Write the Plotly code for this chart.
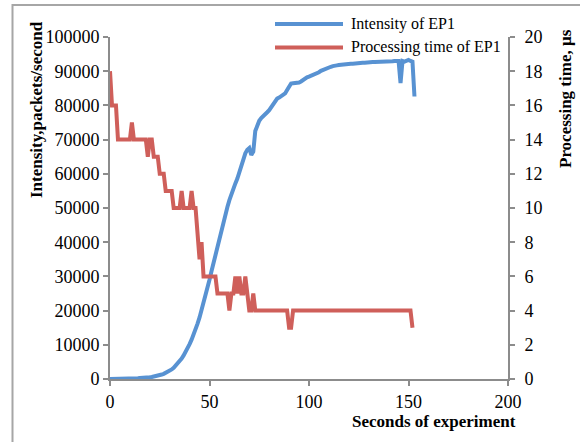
import plotly.graph_objects as go

# Intensity of EP1 (packets/second), one value per second, 0..153 s
intensity = [
    0, 0, 0, 0, 0, 50, 50, 100, 100, 100,
    150, 150, 200, 200, 250, 300, 300, 350, 400, 450,
    500, 600, 700, 800, 950, 1100, 1300, 1500, 1750, 2050,
    2400, 2800, 3300, 3900, 4500, 5200, 6000, 6900, 7900, 9000,
    10200, 11500, 12900, 14500, 16200, 18000, 20000, 22000, 24300, 26600,
    29000, 31500, 34000, 36500, 39000, 41500, 43800, 46000, 48200, 50300,
    52300, 54200, 55800, 57200, 58600, 60500, 62300, 64000, 66000, 67000,
    67500, 65500, 66500, 72500, 74500, 75500, 76300, 77000, 77500, 78000,
    78600, 79500, 80300, 81200, 82000, 82300, 82800, 83200, 83500, 84500,
    85800, 86400, 86500, 86500, 86600, 86700, 87000, 87500, 87900, 88200,
    88400, 88600, 88800, 89100, 89300, 89700, 90100, 90400, 90600, 90800,
    91000, 91300, 91500, 91500, 91700, 91800, 91900, 92000, 92000, 92100,
    92100, 92200, 92200, 92300, 92300, 92400, 92400, 92500, 92500, 92600,
    92600, 92600, 92700, 92700, 92700, 92800, 92800, 92800, 92800, 92800,
    92800, 92900, 92900, 93000, 93000, 93000, 86500, 93000, 92800, 93200,
    93300, 93000, 92800, 82600,
]

# Processing time of EP1 (µs), one value per second, 0..152 s
proc_time = [
    18, 16, 16, 16, 14, 14, 14, 14, 14, 14,
    14, 15, 14, 14, 14, 14, 14, 14, 14, 13,
    14, 14, 13, 13, 13, 12, 12, 12, 11, 11,
    11, 11, 10, 10, 10, 10, 11, 10, 10, 10,
    10, 11, 10, 10, 8, 7, 8, 6, 6, 6,
    6, 6, 6, 6, 5, 5, 5, 5, 5, 5,
    4, 5, 5, 6, 5, 6, 5, 5, 6, 5,
    4, 4, 5, 4, 4, 4, 4, 4, 4, 4,
    4, 4, 4, 4, 4, 4, 4, 4, 4, 4,
    3, 3, 4, 4, 4, 4, 4, 4, 4, 4,
    4, 4, 4, 4, 4, 4, 4, 4, 4, 4,
    4, 4, 4, 4, 4, 4, 4, 4, 4, 4,
    4, 4, 4, 4, 4, 4, 4, 4, 4, 4,
    4, 4, 4, 4, 4, 4, 4, 4, 4, 4,
    4, 4, 4, 4, 4, 4, 4, 4, 4, 4,
    4, 4, 3,
]

sec_intensity = list(range(len(intensity)))
sec_proc = list(range(len(proc_time)))

series_names = ["Intensity of EP1", "Processing time of EP1"]
x_title = "Seconds of experiment"
y1_title = "Intensity,packets/second"
y2_title = "Processing time, µs"

BLUE = "#5892D2"
RED = "#CF5F5A"
AXIS = "#8C8C8C"
TICKFONT = dict(family="Liberation Serif", size=18, color="#000000")
TITLEFONT = dict(family="Liberation Serif", size=17, color="#000000")
LEGFONT = dict(family="Liberation Serif", size=16, color="#000000")

fig = go.Figure()
fig.add_trace(go.Scatter(x=sec_intensity, y=intensity, mode="lines",
                         line=dict(color=BLUE, width=4), name=series_names[0],
                         showlegend=False, yaxis="y"))
fig.add_trace(go.Scatter(x=sec_proc, y=proc_time, mode="lines",
                         line=dict(color=RED, width=4), name=series_names[1],
                         showlegend=False, yaxis="y2"))

axis_common = dict(showgrid=False, zeroline=False, showline=True, linecolor=AXIS,
                   linewidth=2, ticks="outside", ticklen=5, tickwidth=2,
                   tickcolor=AXIS, tickfont=TICKFONT)

fig.update_layout(
    width=580, height=442,
    margin=dict(l=110, r=72, t=37, b=63),
    paper_bgcolor="white", plot_bgcolor="white",
    xaxis=dict(range=[0, 200], dtick=50, tickformat="d", **axis_common),
    yaxis=dict(range=[0, 100000], dtick=10000, tickformat="d", **axis_common),
    yaxis2=dict(range=[0, 20], dtick=2, tickformat="d", overlaying="y",
                side="right", ticklabelstandoff=6, **axis_common),
)

def px_x(px):
    return (px - 110) / 398.0

def px_y(py):
    return (379 - py) / 342.0

annotations = [
    dict(text="<b>" + y1_title + "</b>", x=px_x(37), y=px_y(110), textangle=-90,
         xref="paper", yref="paper", showarrow=False, font=TITLEFONT,
         xanchor="center", yanchor="middle"),
    dict(text="<b>" + y2_title + "</b>", x=px_x(565), y=px_y(99), textangle=-90,
         xref="paper", yref="paper", showarrow=False, font=TITLEFONT,
         xanchor="center", yanchor="middle"),
    dict(text="<b>" + x_title + "</b>", x=px_x(434), y=px_y(421),
         xref="paper", yref="paper", showarrow=False, font=TITLEFONT,
         xanchor="center", yanchor="middle"),
    dict(text=series_names[0], x=px_x(349), y=px_y(24), xref="paper", yref="paper",
         showarrow=False, font=LEGFONT, xanchor="left", yanchor="middle"),
    dict(text=series_names[1], x=px_x(349), y=px_y(47.5), xref="paper", yref="paper",
         showarrow=False, font=LEGFONT, xanchor="left", yanchor="middle"),
]
fig.update_layout(annotations=annotations)

shapes = [
    dict(type="line", xref="paper", yref="paper", x0=px_x(275), x1=px_x(343),
         y0=px_y(24), y1=px_y(24), line=dict(color=BLUE, width=4)),
    dict(type="line", xref="paper", yref="paper", x0=px_x(275), x1=px_x(343),
         y0=px_y(47.5), y1=px_y(47.5), line=dict(color=RED, width=4)),
    dict(type="rect", xref="paper", yref="paper", x0=px_x(12.5), x1=px_x(600),
         y0=px_y(460), y1=px_y(5), line=dict(color="#A6A6A6", width=2)),
]
fig.update_layout(shapes=shapes)

fig.write_html("out.html")
